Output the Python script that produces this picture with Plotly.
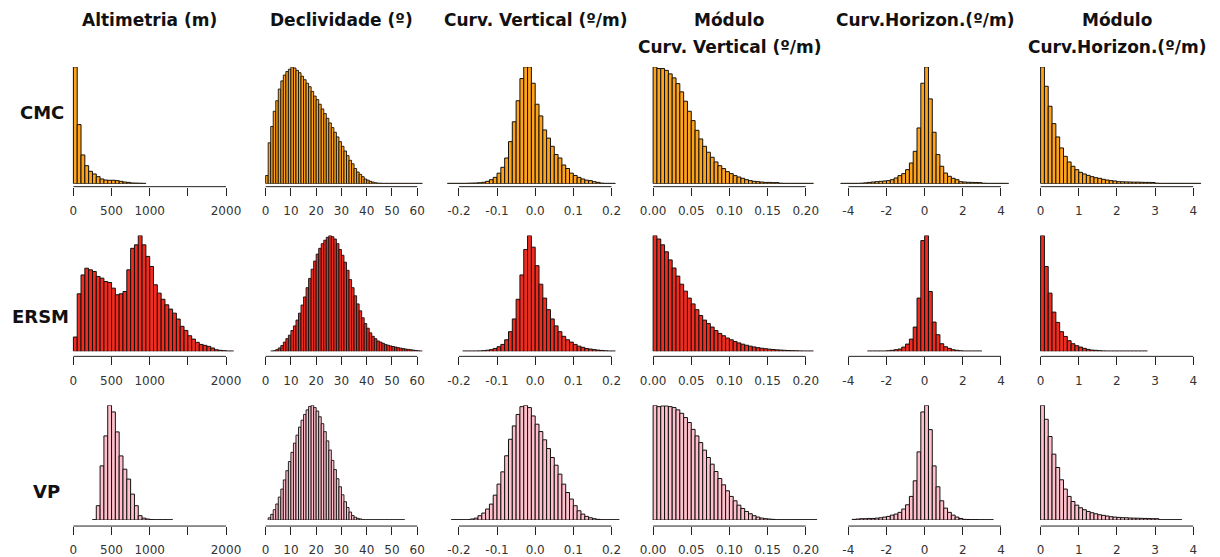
import plotly.graph_objects as go

# ---------------- DATA (bar heights as % of tallest bar in each panel) ----------------
row_names = ["CMC", "ERSM", "VP"]
col_titles = [["Altimetria (m)"], ["Declividade (º)"], ["Curv. Vertical (º/m)"],
              ["Módulo", "Curv. Vertical (º/m)"], ["Curv.Horizon.(º/m)"],
              ["Módulo", "Curv.Horizon.(º/m)"]]

bin_widths = [50, 1, 0.01, 0.005, 0.2, 0.1]
first_bin_cmc = [0, 0, -0.23, 0, -4.4, 0]
first_bin_ersm = [0, 2, -0.19, 0, -3.0, 0]
first_bin_vp = [250, 1, -0.22, 0, -3.8, 0]

tick_vals = [[0, 500, 1000, 1500, 2000], [0, 10, 20, 30, 40, 50, 60],
             [-0.2, -0.1, 0.0, 0.1, 0.2], [0, 0.05, 0.10, 0.15, 0.20],
             [-4, -2, 0, 2, 4], [0, 1, 2, 3, 4]]
tick_text = [["0", "500", "1000", "", "2000"], ["0", "10", "20", "30", "40", "50", "60"],
             ["-0.2", "-0.1", "0.0", "0.1", "0.2"], ["0.00", "0.05", "0.10", "0.15", "0.20"],
             ["-4", "-2", "0", "2", "4"], ["0", "1", "2", "3", "4"]]

cmc_alt = [100, 50.6, 24.6, 15.4, 10.6, 8.3, 6.0, 4.0, 3.1, 2.9, 2.9, 2.6, 2.0, 1.4, 1.1,
           0.6, 0.5, 0.4, 0.3]
cmc_decl = [7, 35, 49, 62, 71, 81, 88, 93, 96, 98, 100, 99, 97, 95, 92, 89, 86, 83, 79, 75,
            72, 68, 64, 60, 56, 52, 48, 44, 40, 36, 32, 28, 24, 20, 17, 13, 10, 8, 6, 4,
            3, 2, 1.3, 0.8, 0.5, 0.4, 0.3, 0.3, 0.3, 0.3, 0.3, 0.3, 0.3, 0.3, 0.3, 0.3,
            0.3, 0.3, 0.3, 0.3, 0.3, 0.3]
cmc_cv = [0.3, 0.3, 0.3, 0.3, 0.3, 0.4, 0.5, 0.6, 0.8, 1.2, 2, 3.4, 5.4, 9, 14, 22, 36, 53,
          71, 90, 100, 100, 86, 68, 58, 46, 39, 32, 25, 22, 16, 13, 9, 7, 5.4, 4, 3, 2.6,
          1.7, 1.1, 0.5, 0.3, 0.3, 0.3]
cmc_mcv = [100, 98.6, 98.6, 97, 94, 90.6, 85.7, 78.6, 70.6, 62, 54, 45.7, 38.3, 32, 26.9,
           22.6, 18.6, 15.4, 12.9, 10.3, 8.6, 6.9, 5.7, 4.6, 3.4, 2.6, 2, 1.7, 1.4, 1.1,
           1.1, 0.9, 0.9, 0.4, 0.3, 0.3, 0.3, 0.3, 0.3, 0.3, 0.3, 0.3]
cmc_ch = [0.3, 0.3, 0.3, 0.3, 0.3, 0.4, 0.7, 1.1, 1.4, 1.7, 2, 2.3, 2.6, 3.4, 4.9, 6.9,
          8.6, 12, 17.7, 27.7, 47.7, 86,
          100, 72.6, 44, 24.9, 14.9, 9.1, 6.3, 4.6, 3.4, 1.7, 1.4, 1.2, 1.1, 1.0, 0.9,
          0.4, 0.3, 0.3, 0.3, 0.3, 0.3, 0.3]
cmc_mch = [100, 83.4, 66.3, 51.4, 40, 30.6, 23.4, 18.6, 14.9, 12, 9.7, 8.3, 7.1, 6, 5.1,
           4.6, 3.7, 3.1, 2.6, 2.3, 1.7, 1.6, 1.5, 1.4, 1.3, 1.3, 1.2, 1.1, 1.1, 1.0,
           0.4, 0.3, 0.3, 0.3, 0.3, 0.3, 0.3, 0.3, 0.3, 0.3, 0.3, 0.3]

ersm_alt = [12.4, 49.7, 66, 71.8, 70.4, 69, 64.7, 63.2, 60.3, 59.5, 54.6, 48.9, 49.7, 51.7,
            70.4, 89, 92, 100, 92, 82, 73.3, 57.5, 50.3, 45, 40.2, 36.5, 33, 27.9, 21.6,
            18.1, 13.5, 10.6, 7.8, 6, 5.2, 4.3, 2.9, 1.4, 0.9, 0.6, 0.3, 0.3]
ersm_decl = [0.3, 0.6, 1.5, 3, 5, 8, 11, 14, 18, 22, 27, 33, 40, 47, 55, 63, 71, 78, 84,
             89, 93, 96, 98.5, 100, 99, 97, 93, 88, 83, 77, 70, 62, 55, 48, 41, 35, 29,
             24, 20, 16, 13, 11, 9, 8, 7, 6, 5.3, 4.7, 4.2, 3.7, 3.2, 2.8, 2.4, 2, 1.7,
             1.4, 1.1, 0.8, 0.5, 0.3]
ersm_cv = [0.3, 0.3, 0.3, 0.3, 0.4, 0.6, 1, 1.5, 2.5, 4, 6, 10, 17, 28, 45, 66, 88, 100,
           90, 74, 58, 46, 36, 28, 22, 17, 13, 10, 8, 6, 4.5, 3.5, 2.5, 2, 1.5, 1.1, 0.8,
           0.5, 0.3, 0.3]
ersm_mcv = [100, 97, 92, 86, 79, 72, 65, 58, 52, 46, 41, 36, 31, 27, 24, 21, 18, 15.5,
            13.5, 11.5, 10, 8.5, 7.3, 6.2, 5.3, 4.5, 3.8, 3.2, 2.7, 2.3, 1.9, 1.6, 1.3,
            1.1, 0.9, 0.7, 0.6, 0.5, 0.4, 0.3, 0.3, 0.3]
ersm_ch = [0.3, 0.3, 0.3, 0.3, 0.3, 0.5, 0.9, 1.4, 2, 3.7, 6.3, 10.6, 21, 46, 95.7,
           100, 51.7, 25.3, 14.4, 6.6, 4, 2.6, 1.4, 0.9, 0.5, 0.3, 0.3, 0.3, 0.3, 0.3]
ersm_mch = [100, 73.3, 50.3, 33.9, 25, 17, 12.9, 9.2, 6.6, 4.9, 3.7, 2.6, 1.7, 1.1, 0.9,
            0.6, 0.4, 0.3, 0.3, 0.3, 0.3, 0.3, 0.3, 0.3, 0.3, 0.3, 0.3, 0.3]

vp_alt = [0.3, 12.5, 47.2, 73.3, 100, 94.2, 76.8, 55.9, 44.3, 35.7, 22.6, 12.5, 3.8, 1.7,
          0.9, 0.4, 0.3, 0.3, 0.3, 0.3, 0.3]
vp_decl = [2, 5, 9, 14, 20, 27, 35, 43, 51, 59, 67, 74, 81, 87, 92, 96, 99, 100, 98, 95,
           90, 84, 77, 69, 61, 52, 44, 36, 29, 22, 16, 11, 7, 4, 2.5, 1.5, 1, 0.3, 0.3,
           0.3, 0.3, 0.3, 0.3, 0.3, 0.3, 0.3, 0.3, 0.3, 0.3, 0.3, 0.3, 0.3, 0.3, 0.3]
vp_cv = [0.3, 0.3, 0.3, 0.3, 0.3, 0.9, 1.7, 3.8, 6.1, 9.6, 13.9, 21.7, 31.3, 42, 56, 70.4,
         82, 92, 98.8, 100, 98, 90.7,
         83.5, 77.1, 69.9, 62.3, 54.5, 47.8, 40, 31.3, 24, 18.3, 12.5, 8.1, 5.2, 3.2, 2,
         1.2, 0.6, 0.3, 0.3, 0.3, 0.3, 0.3]
vp_mcv = [100, 98.8, 99.4, 99.4, 98.8, 98, 96, 93, 89.3, 85, 79, 73.3, 67.5, 60.9, 54.5,
          48.7, 42.3, 36.2, 30.7, 25.5, 20.6, 16.8, 13, 10.1, 7.5, 5.5, 3.8, 2.6, 1.7, 1.2,
          0.9, 0.6, 0.3, 0.3, 0.3, 0.3, 0.3, 0.3, 0.3, 0.3, 0.3, 0.3, 0.3]
vp_ch = [0.6, 0.9, 1.2, 1.2, 1.4, 1.4, 1.7, 2, 2.6, 3.2, 4.3, 5.2, 6.7, 9.6, 13.3, 20.6,
         34.2, 59.4, 94.2,
         100, 78.8, 47.2, 29, 16.8, 10.4, 6.7, 4.3, 2.6, 1.4, 0.6, 0.5, 0.4, 0.4, 0.3, 0.3,
         0.3, 0.3]
vp_mch = [100, 87.8, 72.8, 57.4, 45.8, 35.1, 27, 20.6, 16.2, 13, 10.7, 9, 7.5, 6.4, 5.5,
          4.6, 4.1, 3.5, 2.9, 2.6, 2.3, 2.1, 2.0, 1.8, 1.7, 1.6, 1.5, 1.4, 1.3, 1.2, 1.2,
          0.3, 0.3, 0.3, 0.3, 0.3, 0.3]

data = [[cmc_alt, cmc_decl, cmc_cv, cmc_mcv, cmc_ch, cmc_mch],
        [ersm_alt, ersm_decl, ersm_cv, ersm_mcv, ersm_ch, ersm_mch],
        [vp_alt, vp_decl, vp_cv, vp_mcv, vp_ch, vp_mch]]
first_bins = [first_bin_cmc, first_bin_ersm, first_bin_vp]

# ---------------- STYLE / LAYOUT ----------------
W, H = 1220, 557
fills = ["#FFA31A", "#F22B1E", "#FFC0CB"]
col_px = [(67, 221), (261, 414), (456, 610), (652, 806), (849, 1003), (1043, 1197)]
col_range = [(-40, 2150), (-2, 64), (-0.24, 0.24), (-0.008, 0.215), (-4.8, 4.8), (-0.1, 4.3)]
col_edge_w = [1, 0.9, 1, 1, 1, 1]
row_px = [(184, 67, 187), (352, 236, 357), (521, 406, 527)]  # baseline, top, axis line
row_label_px = [(35, 113), (34, 317), (40, 492)]
title_y_px = [20, 47]
FONT = "DejaVu Sans"

fig = go.Figure()
layout = {}
shapes = []
k = 0
for r in range(3):
    for c in range(6):
        k += 1
        xa = "x" if k == 1 else f"x{k}"
        ya = "y" if k == 1 else f"y{k}"
        xkey = "xaxis" if k == 1 else f"xaxis{k}"
        ykey = "yaxis" if k == 1 else f"yaxis{k}"
        h = data[r][c]
        w = bin_widths[c]
        s0 = first_bins[r][c]
        xs = [s0 + (i + 0.5) * w for i in range(len(h))]
        fig.add_trace(go.Bar(x=xs, y=h, width=w, xaxis=xa, yaxis=ya,
                             marker=dict(color=fills[r],
                                         line=dict(color="#111", width=col_edge_w[c])),
                             hoverinfo="skip", showlegend=False))
        v0, v1 = tick_vals[c][0], tick_vals[c][-1]
        p0, p1 = col_px[c]
        sc = (p1 - p0) / (v1 - v0)
        rmin, rmax = col_range[c]
        d0 = (p0 + (rmin - v0) * sc) / W
        d1 = (p0 + (rmax - v0) * sc) / W
        base, top, axis = row_px[r]
        apos = 1 - axis / H
        layout[xkey] = dict(domain=[d0, d1], range=[rmin, rmax], anchor="free", position=apos,
                            side="bottom", showline=False, showgrid=False, zeroline=False,
                            ticks="outside", ticklen=8, tickwidth=1, tickcolor="#222",
                            tickvals=tick_vals[c], ticktext=tick_text[c],
                            tickfont=dict(family=FONT, size=12, color="#333"),
                            ticklabelstandoff=5, fixedrange=True)
        layout[ykey] = dict(domain=[1 - base / H, 1 - top / H], range=[0, max(h)],
                            visible=False, anchor=xa, fixedrange=True)
        shapes.append(dict(type="line", xref=xa, yref="paper", x0=v0, x1=v1, y0=apos, y1=apos,
                           line=dict(color="#222", width=1)))

annotations = []
for c, lines in enumerate(col_titles):
    cx = (col_px[c][0] + col_px[c][1]) / 2 / W
    for j, line in enumerate(lines):
        annotations.append(dict(text=line, x=cx, y=1 - title_y_px[j] / H, xref="paper",
                                yref="paper", showarrow=False, xanchor="center",
                                yanchor="middle",
                                font=dict(family=FONT, size=17, color="#111", weight="bold")))
for r, name in enumerate(row_names):
    px, py = row_label_px[r]
    annotations.append(dict(text=name, x=px / W, y=1 - py / H, xref="paper", yref="paper",
                            showarrow=False, xanchor="center", yanchor="middle",
                            font=dict(family=FONT, size=18, color="#111", weight="bold")))

fig.update_layout(width=W, height=H, margin=dict(l=0, r=0, t=0, b=0),
                  paper_bgcolor="white", plot_bgcolor="white", bargap=0,
                  shapes=shapes, annotations=annotations, showlegend=False, **layout)
fig.write_html("out.html", config={"displayModeBar": False, "staticPlot": True},
               post_script="document.body.style.margin='0';")
